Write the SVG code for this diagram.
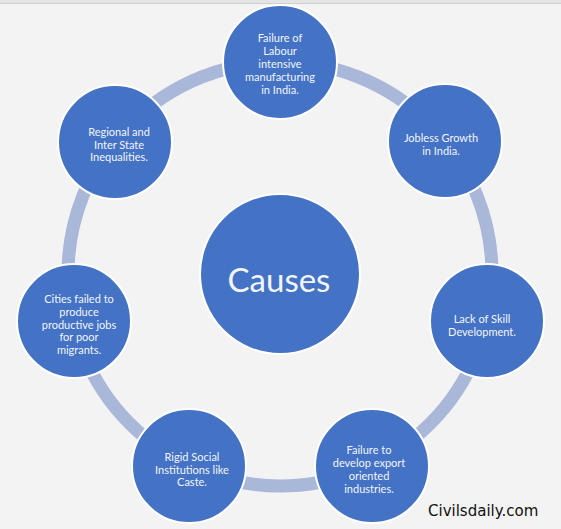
<svg xmlns="http://www.w3.org/2000/svg" width="561" height="529" viewBox="0 0 561 529">
<style>
.node circle{fill:#4472c4;stroke:#ffffff;stroke-width:2}
.node text{fill:#f2f5fb;font-family:Lato,"Open Sans","Liberation Sans",sans-serif;font-size:11px;text-anchor:middle}
.ring{fill:none;stroke:#a9b7d9;stroke-width:13}
</style>
<rect x="0" y="0" width="561" height="529" fill="#f3f3f3"/>
<rect x="0" y="0" width="561" height="3" fill="#e4e4e4"/>
<line x1="0" y1="3.5" x2="561" y2="3.5" stroke="#cfcfcf" stroke-width="1"/>
<g id="connectors">
<circle class="ring" cx="280" cy="274" r="212"/>
</g>
<g id="center" class="node">
<circle cx="280" cy="274" r="80"/>
<text x="279" y="292" style="font-size:33px">Causes</text>
</g>
<g id="n1" class="node">
<circle cx="280" cy="62" r="57"/>
<text x="280" y="42">Failure of</text>
<text x="280" y="55">Labour</text>
<text x="280" y="68">intensive</text>
<text x="280" y="81">manufacturing</text>
<text x="280" y="94">in India.</text>
</g>
<g id="n2" class="node">
<circle cx="445" cy="141" r="57"/>
<text x="441" y="142">Jobless Growth</text>
<text x="441" y="155">in India.</text>
</g>
<g id="n3" class="node">
<circle cx="487" cy="321" r="57"/>
<text x="482" y="323">Lack of Skill</text>
<text x="482" y="336">Development.</text>
</g>
<g id="n4" class="node">
<circle cx="372" cy="466" r="57"/>
<text x="369" y="454">Failure to</text>
<text x="369" y="467">develop export</text>
<text x="369" y="480">oriented</text>
<text x="369" y="493">industries.</text>
</g>
<g id="n5" class="node">
<circle cx="189" cy="466" r="57"/>
<text x="192" y="461">Rigid Social</text>
<text x="192" y="473.5">Institutions like</text>
<text x="192" y="486">Caste.</text>
</g>
<g id="n6" class="node">
<circle cx="74" cy="321" r="57"/>
<text x="79" y="303">Cities failed to</text>
<text x="79" y="316">produce</text>
<text x="79" y="328.5">productive jobs</text>
<text x="79" y="341">for poor</text>
<text x="79" y="354">migrants.</text>
</g>
<g id="n7" class="node">
<circle cx="115" cy="142" r="57"/>
<text x="119" y="136">Regional and</text>
<text x="119" y="148.5">Inter State</text>
<text x="119" y="161">Inequalities.</text>
</g>
<text x="428" y="516" fill="#111111" style="font-family:'DejaVu Sans','Liberation Sans',sans-serif;font-size:15px">Civilsdaily.com</text>
</svg>
